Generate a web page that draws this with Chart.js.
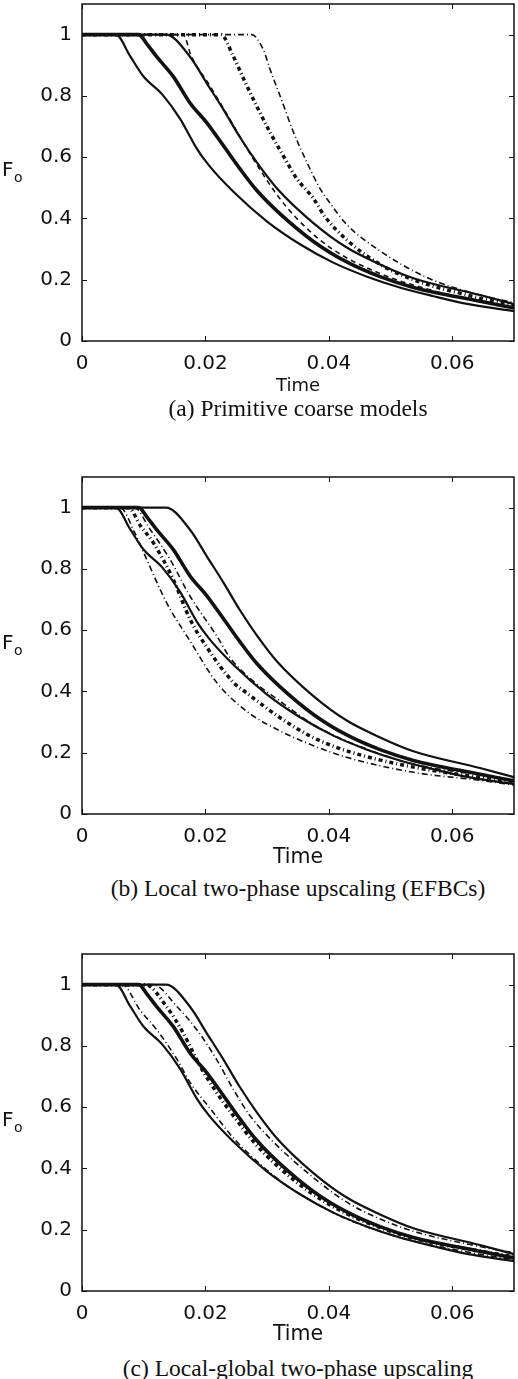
<!DOCTYPE html>
<html>
<head>
<meta charset="utf-8">
<script src="https://cdn.jsdelivr.net/npm/chart.js@4.4.1/dist/chart.umd.min.js"></script>
<style>
  html, body { margin: 0; padding: 0; background: #fff; }
  body { width: 518px; height: 1379px; position: relative; overflow: hidden; }
  .panel { position: absolute; left: 0; width: 518px; }
  .caption { position: absolute; left: 82px; width: 432px; height: 30px; line-height: 30px;
    text-align: center; white-space: nowrap; color: #111;
    font-family: 'Liberation Serif', 'Times New Roman', serif; font-size: 23.5px; }
</style>
</head>
<body>
<div class="panel" style="top:-10px"><canvas id="chartA" width="518" height="409"></canvas></div>
<div class="panel" style="top:463px"><canvas id="chartB" width="518" height="409"></canvas></div>
<div class="panel" style="top:940px"><canvas id="chartC" width="518" height="409"></canvas></div>
<div class="caption" style="top:393px">(a) Primitive coarse models</div>
<div class="caption" style="top:873px">(b) Local two-phase upscaling (EFBCs)</div>
<div class="caption" style="top:1353px">(c) Local-global two-phase upscaling</div>
<script>
// axis ticks
const timeTicks = [0, 0.02, 0.04, 0.06];
const timeTickLabels = ['0', '0.02', '0.04', '0.06'];
const foTicks = [0, 0.2, 0.4, 0.6, 0.8, 1];
const foTickLabels = ['0', '0.2', '0.4', '0.6', '0.8', '1'];

// reference (fine-scale) curves, same in every panel: [time, Fo]
const refThin1 = [[0,1],[0.0055,1],[0.0078,0.93],[0.0099,0.865],[0.013,0.805],[0.0159,0.725],[0.0186,0.628],
  [0.0205,0.575],[0.0245,0.488],[0.03,0.39],[0.0354,0.315],[0.0408,0.255],[0.0462,0.21],[0.0516,0.174],
  [0.057,0.146],[0.0624,0.121],[0.07,0.097]];
const refThick = [[0,1],[0.0092,1],[0.0105,0.97],[0.0121,0.928],[0.0148,0.863],[0.0175,0.777],[0.0202,0.713],
  [0.0229,0.638],[0.0256,0.562],[0.0283,0.492],[0.0321,0.415],[0.0375,0.325],[0.0429,0.258],[0.0483,0.21],
  [0.0537,0.175],[0.0645,0.13],[0.07,0.108]];
const refThin3 = [[0,1],[0.0136,1],[0.0175,0.928],[0.0202,0.842],[0.0229,0.756],[0.0256,0.665],[0.0283,0.584],
  [0.0316,0.498],[0.0375,0.385],[0.0429,0.305],[0.0483,0.25],[0.0537,0.205],[0.0645,0.15],[0.07,0.12]];

// (a) primitive coarse models
const aDashed = [[0,1],[0.0164,1],[0.0177,0.93],[0.0205,0.84],[0.0232,0.75],[0.0258,0.66],[0.0285,0.57],
  [0.0315,0.48],[0.0348,0.4],[0.0402,0.305],[0.0483,0.22],[0.0559,0.17],[0.0645,0.128],[0.07,0.108]];
const aThickDashDot = [[0,1],[0.0225,1],[0.0245,0.93],[0.0262,0.855],[0.0283,0.767],[0.0305,0.68],[0.0326,0.605],
  [0.0348,0.53],[0.0375,0.465],[0.0394,0.405],[0.0429,0.33],[0.0483,0.25],[0.0537,0.2],[0.0645,0.14],[0.07,0.115]];
const aThinDashDot = [[0,1],[0.0275,1],[0.0294,0.95],[0.0305,0.885],[0.0321,0.8],[0.0343,0.68],[0.0364,0.585],
  [0.0385,0.5],[0.0402,0.45],[0.0429,0.38],[0.0483,0.294],[0.0559,0.207],[0.0645,0.15],[0.07,0.125]];

// (b) local two-phase upscaling (EFBCs)
const bThinDashDot1 = [[0,1],[0.0062,1],[0.0085,0.92],[0.0105,0.83],[0.0137,0.69],[0.0175,0.565],[0.0218,0.43],
  [0.0267,0.335],[0.0321,0.271],[0.0375,0.223],[0.0429,0.185],[0.0537,0.136],[0.0645,0.11],[0.07,0.095]];
const bThickDashDot = [[0,1],[0.0075,1],[0.0095,0.94],[0.0116,0.884],[0.0148,0.765],[0.0175,0.636],[0.0202,0.545],
  [0.0245,0.43],[0.0267,0.395],[0.0321,0.314],[0.0375,0.249],[0.0429,0.206],[0.0537,0.153],[0.0645,0.12],[0.07,0.105]];
const bThinDashDot2 = [[0,1],[0.0085,1],[0.011,0.93],[0.0143,0.83],[0.0175,0.711],[0.0218,0.582],[0.024,0.51],
  [0.0272,0.443],[0.0321,0.368],[0.0375,0.292],[0.0429,0.238],[0.0537,0.163],[0.0645,0.128],[0.07,0.112]];

// (c) local-global two-phase upscaling
const cThinDashDot1 = [[0,1],[0.0065,1],[0.0094,0.917],[0.0121,0.853],[0.0154,0.756],[0.0175,0.681],[0.0208,0.595],
  [0.0245,0.5],[0.0272,0.445],[0.0321,0.36],[0.0375,0.29],[0.0429,0.235],[0.0483,0.195],[0.0537,0.163],[0.0645,0.12],[0.07,0.102]];
const cThickDashDot = [[0,1],[0.0103,1],[0.0137,0.928],[0.0164,0.842],[0.0191,0.735],[0.0218,0.648],[0.0245,0.573],
  [0.0278,0.487],[0.0321,0.4],[0.0375,0.315],[0.0429,0.252],[0.0483,0.207],[0.0537,0.172],[0.0645,0.13],[0.07,0.112]];
const cThinDashDot3 = [[0,1],[0.0115,1],[0.0154,0.928],[0.0186,0.853],[0.0218,0.756],[0.0245,0.659],[0.0272,0.573],
  [0.031,0.487],[0.0375,0.37],[0.0429,0.29],[0.0483,0.235],[0.0537,0.195],[0.0645,0.145],[0.07,0.125]];

const INK = '#111';
const solidThin = { borderWidth: 2.2, borderDash: [] };
const solidThick = { borderWidth: 3.6, borderDash: [] };
const dashThin = { borderWidth: 1.6, borderDash: [5, 4] };
const dashDotThin = { borderWidth: 1.6, borderDash: [6, 3, 1, 3] };
const dashDotThick = { borderWidth: 3.5, borderDash: [4, 3, 1, 3] };

function toSet(pairs, style) {
  return Object.assign({
    data: pairs.map(p => ({ x: p[0], y: p[1] })),
    borderColor: INK,
    pointRadius: 0,
    fill: false,
    cubicInterpolationMode: 'monotone'
  }, style);
}

// frame, inward ticks on all four sides, horizontal F_o label
const frameTicks = {
  id: 'frameTicks',
  afterDraw(chart) {
    const { ctx, chartArea: a, scales: { x, y } } = chart;
    ctx.save();
    ctx.strokeStyle = INK;
    ctx.lineWidth = 1.5;
    ctx.strokeRect(a.left, a.top, a.right - a.left, a.bottom - a.top);
    ctx.lineWidth = 1;
    ctx.beginPath();
    timeTicks.forEach(v => {
      const px = Math.round(x.getPixelForValue(v)) + 0.5;
      ctx.moveTo(px, a.bottom); ctx.lineTo(px, a.bottom - 5);
      ctx.moveTo(px, a.top); ctx.lineTo(px, a.top + 5);
    });
    foTicks.forEach(v => {
      const py = Math.round(y.getPixelForValue(v)) + 0.5;
      ctx.moveTo(a.left, py); ctx.lineTo(a.left + 5, py);
      ctx.moveTo(a.right, py); ctx.lineTo(a.right - 5, py);
    });
    ctx.stroke();
    const mid = (a.top + a.bottom) / 2;
    ctx.fillStyle = INK;
    ctx.textAlign = 'left';
    ctx.textBaseline = 'middle';
    ctx.font = '20px "DejaVu Sans"';
    ctx.fillText('F', 2, mid - 2);
    ctx.font = '14px "DejaVu Sans"';
    ctx.fillText('o', 14, mid + 6);
    ctx.restore();
  }
};

function makeChart(id, sets, titleSize) {
  return new Chart(document.getElementById(id), {
    type: 'line',
    data: { datasets: sets },
    options: {
      responsive: false,
      animation: false,
      layout: { padding: { top: 10, right: 4, bottom: 0, left: 0 } },
      plugins: { legend: { display: false }, tooltip: { enabled: false } },
      scales: {
        x: {
          type: 'linear', min: 0, max: 0.07,
          grid: { display: false },
          border: { display: false },
          afterBuildTicks: s => { s.ticks = timeTicks.map(v => ({ value: v })); },
          afterFit: s => { s.height = 58; },
          ticks: {
            padding: 3, color: INK, maxRotation: 0, autoSkip: false,
            font: { family: 'DejaVu Sans', size: 20 },
            callback: (v) => timeTickLabels[timeTicks.indexOf(v)] ?? ''
          },
          title: {
            display: true, text: 'Time', color: INK,
            font: { family: 'DejaVu Sans', size: titleSize },
            padding: { top: 0, bottom: 2 }
          }
        },
        y: {
          type: 'linear', min: 0, max: 1.1,
          grid: { display: false },
          border: { display: false },
          afterBuildTicks: s => { s.ticks = foTicks.map(v => ({ value: v })); },
          afterFit: s => { s.width = 82; },
          ticks: {
            padding: 2, color: INK, autoSkip: false,
            font: { family: 'DejaVu Sans', size: 20 },
            callback: (v) => foTickLabels[foTicks.indexOf(v)] ?? ''
          }
        }
      }
    },
    plugins: [frameTicks]
  });
}

const refSets = () => [
  toSet(refThin1, solidThin),
  toSet(refThick, solidThick),
  toSet(refThin3, solidThin)
];

makeChart('chartA', [
  toSet(aDashed, dashThin),
  toSet(aThickDashDot, dashDotThick),
  toSet(aThinDashDot, dashDotThin)
].concat(refSets()), 18);

makeChart('chartB', [
  toSet(bThinDashDot1, dashDotThin),
  toSet(bThickDashDot, dashDotThick),
  toSet(bThinDashDot2, dashDotThin)
].concat(refSets()), 20.5);

makeChart('chartC', [
  toSet(cThinDashDot1, dashDotThin),
  toSet(cThickDashDot, dashDotThick),
  toSet(cThinDashDot3, dashDotThin)
].concat(refSets()), 20.5);
</script>
</body>
</html>
